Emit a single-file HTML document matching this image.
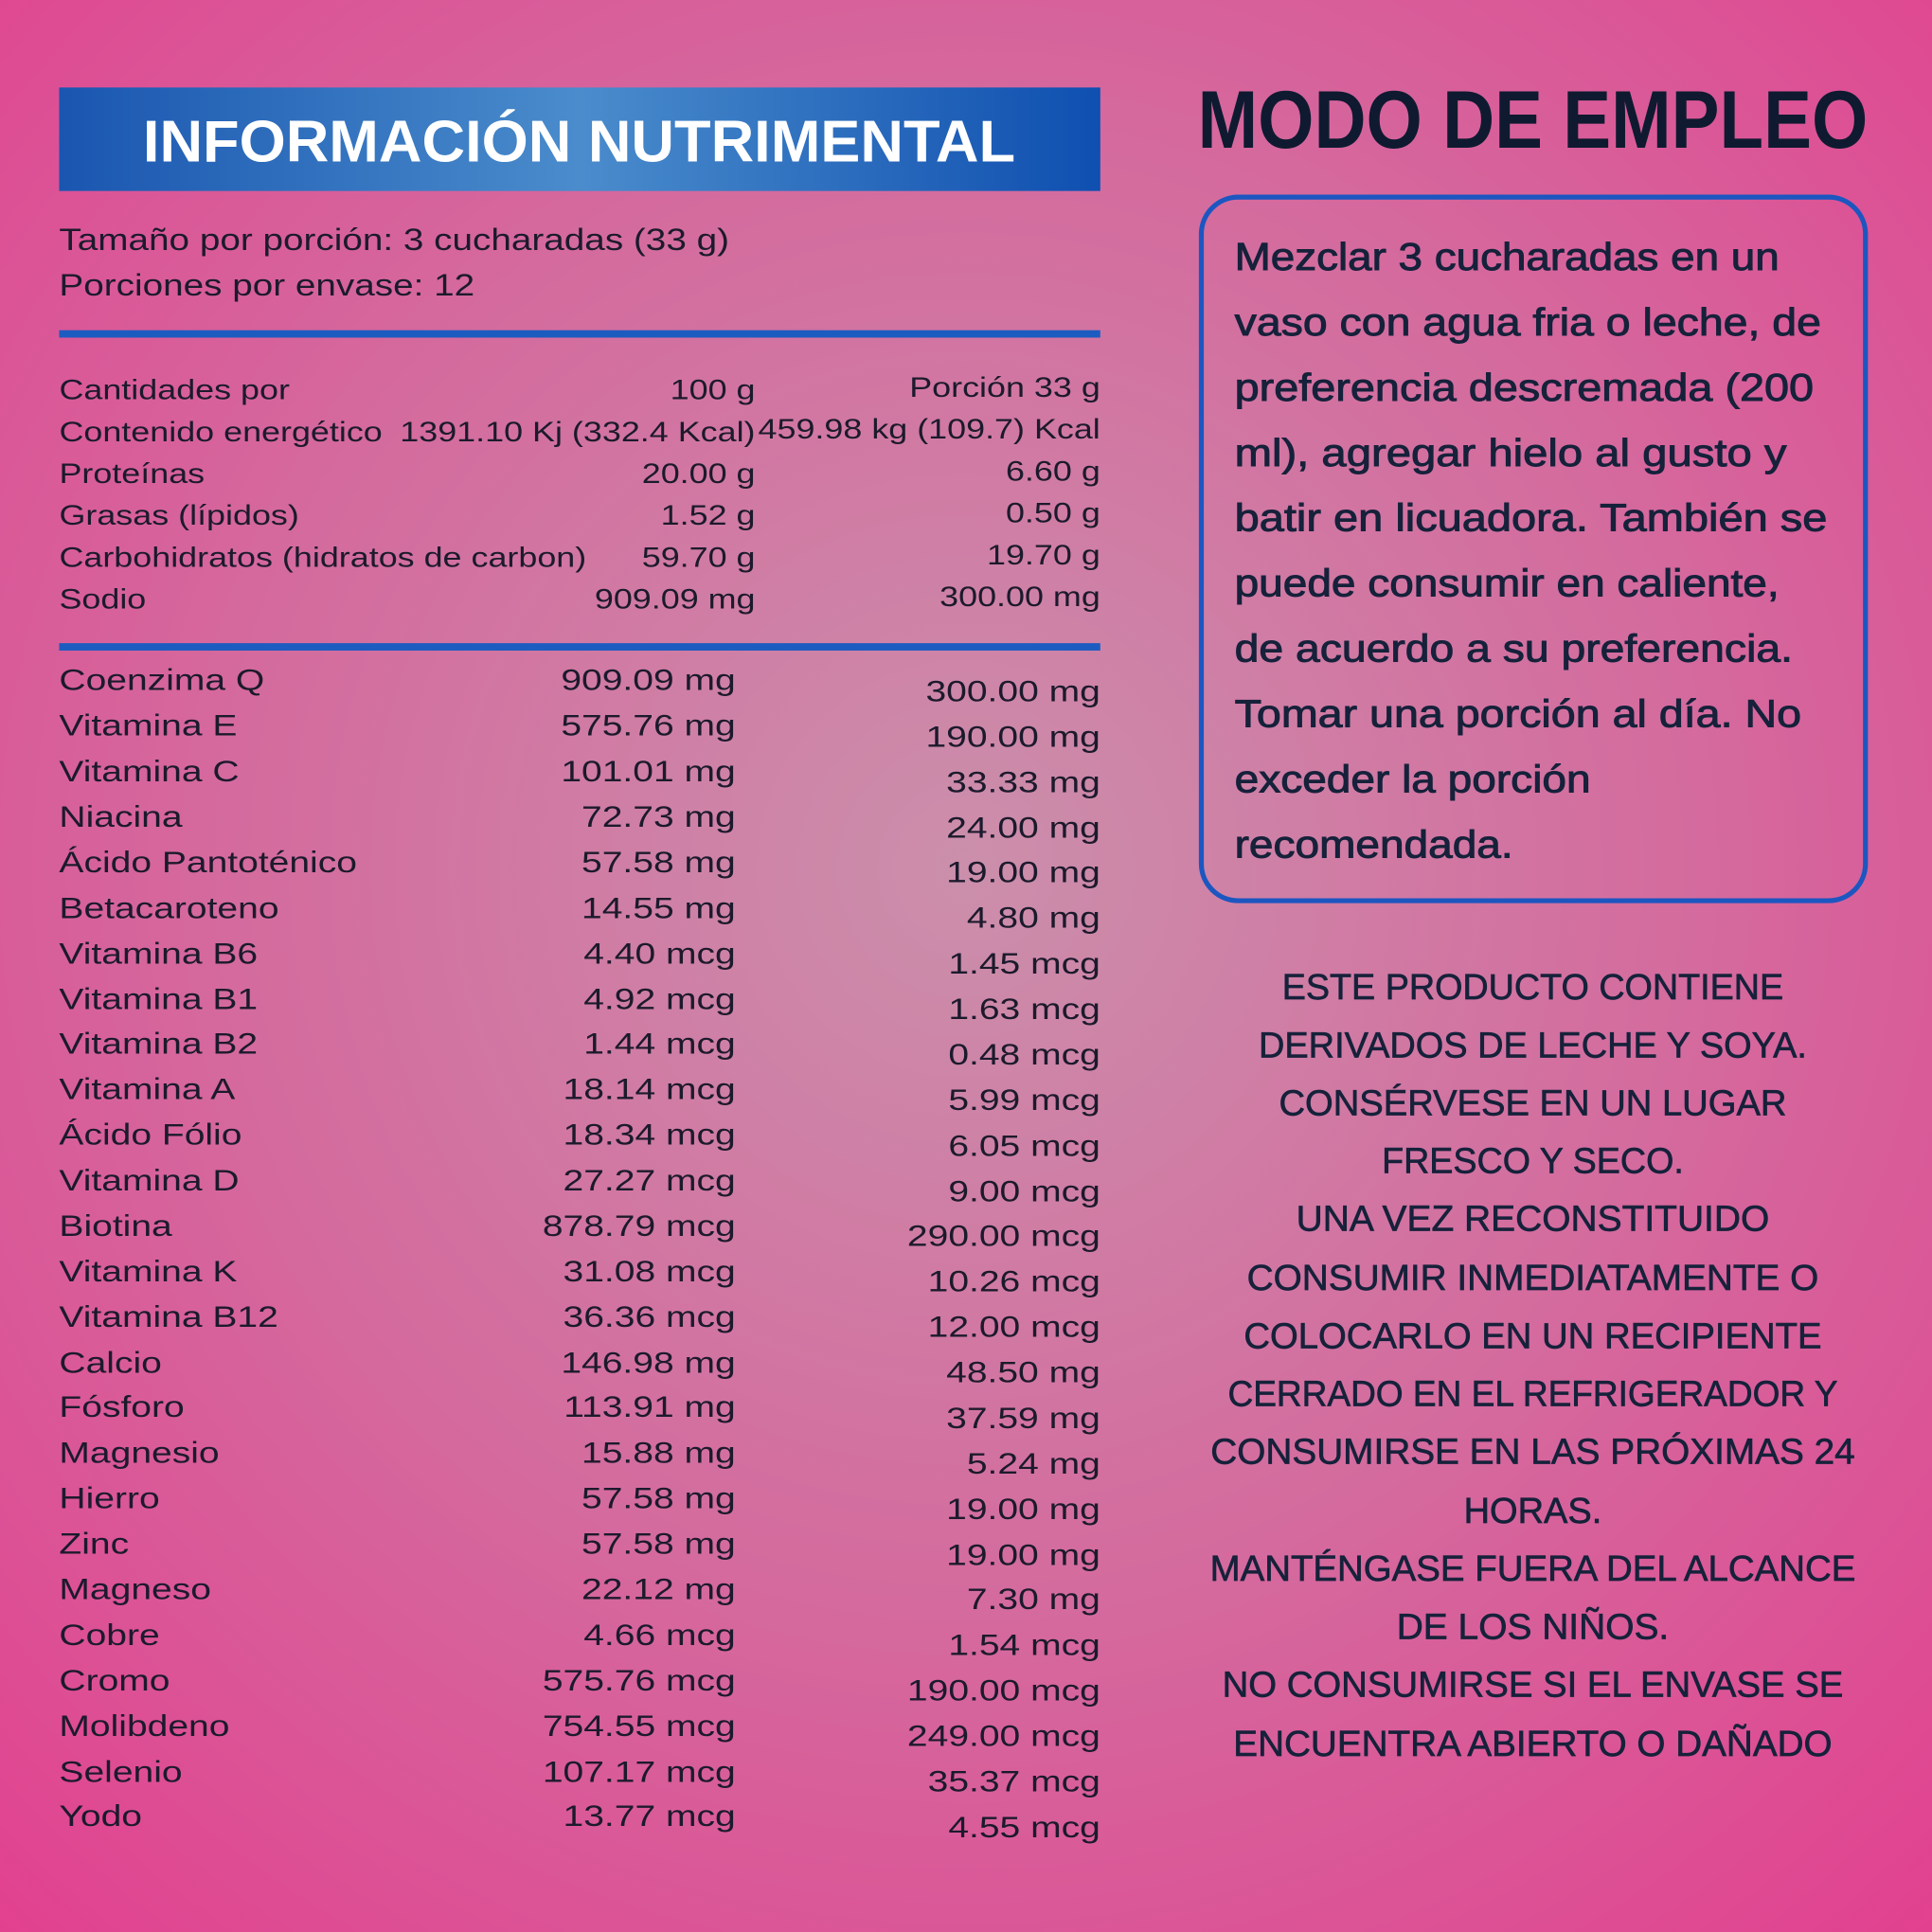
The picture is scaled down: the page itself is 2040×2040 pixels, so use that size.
<!DOCTYPE html>
<html><head><meta charset="utf-8"><style>
html,body{margin:0;padding:0;width:2040px;height:2040px;overflow:hidden}
svg{display:block}
text{font-family:"Liberation Sans",sans-serif}
</style></head><body>
<svg width="2040" height="2040" viewBox="0 0 1568 1568" xmlns="http://www.w3.org/2000/svg">
<defs>
<radialGradient id="bg" cx="0.5" cy="0.45" r="0.75">
<stop offset="0" stop-color="#cb8fab"/>
<stop offset="0.5" stop-color="#d46b9e"/>
<stop offset="1" stop-color="#e2408f"/>
</radialGradient>
<linearGradient id="bar" x1="0" x2="1" y1="0" y2="0">
<stop offset="0" stop-color="#1a56b0"/>
<stop offset="0.5" stop-color="#4a8ccc"/>
<stop offset="1" stop-color="#0f4fb0"/>
</linearGradient>
</defs>
<rect width="1568" height="1568" fill="url(#bg)"/>
<rect x="48" y="71" width="845" height="84" fill="url(#bar)"/>
<text x="470" y="131" font-size="48" font-weight="bold" fill="#fff" text-anchor="middle" textLength="708" lengthAdjust="spacingAndGlyphs">INFORMACIÓN NUTRIMENTAL</text>
<g font-size="25" fill="#1c1a2c" transform="translate(48 0) scale(1.19 1) translate(-48 0)">
<text x="48" y="203">Tamaño por porción: 3 cucharadas (33 g)</text>
<text x="48" y="240">Porciones por envase: 12</text>
</g>
<rect x="48" y="268" width="845" height="6" fill="#1c5cc0"/>
<rect x="48" y="522" width="845" height="6" fill="#1c5cc0"/>
<g font-size="23" fill="#1c1a2c" transform="translate(48 0) scale(1.2 1) translate(-48 0)">
<text x="48" y="324">Cantidades por</text>
<text x="48" y="358">Contenido energético</text>
<text x="48" y="392">Proteínas</text>
<text x="48" y="426">Grasas (lípidos)</text>
<text x="48" y="460">Carbohidratos (hidratos de carbon)</text>
<text x="48" y="494">Sodio</text>
</g>
<g font-size="23" fill="#1c1a2c" text-anchor="end" transform="translate(613 0) scale(1.2 1) translate(-613 0)">
<text x="613" y="324">100 g</text>
<text x="613" y="358">1391.10 Kj (332.4 Kcal)</text>
<text x="613" y="392">20.00 g</text>
<text x="613" y="426">1.52 g</text>
<text x="613" y="460">59.70 g</text>
<text x="613" y="494">909.09 mg</text>
</g>
<g font-size="23" fill="#1c1a2c" text-anchor="end" transform="translate(893 0) scale(1.2 1) translate(-893 0)">
<text x="893" y="322">Porción 33 g</text>
<text x="893" y="356">459.98 kg (109.7) Kcal</text>
<text x="893" y="390">6.60 g</text>
<text x="893" y="424">0.50 g</text>
<text x="893" y="458">19.70 g</text>
<text x="893" y="492">300.00 mg</text>
</g>
<g font-size="24" fill="#1c1a2c" transform="translate(48 0) scale(1.25 1) translate(-48 0)">
<text x="48" y="560">Coenzima Q</text>
<text x="48" y="597">Vitamina E</text>
<text x="48" y="634">Vitamina C</text>
<text x="48" y="671">Niacina</text>
<text x="48" y="708">Ácido Pantoténico</text>
<text x="48" y="745">Betacaroteno</text>
<text x="48" y="782">Vitamina B6</text>
<text x="48" y="819">Vitamina B1</text>
<text x="48" y="855">Vitamina B2</text>
<text x="48" y="892">Vitamina A</text>
<text x="48" y="929">Ácido Fólio</text>
<text x="48" y="966">Vitamina D</text>
<text x="48" y="1003">Biotina</text>
<text x="48" y="1040">Vitamina K</text>
<text x="48" y="1077">Vitamina B12</text>
<text x="48" y="1114">Calcio</text>
<text x="48" y="1150">Fósforo</text>
<text x="48" y="1187">Magnesio</text>
<text x="48" y="1224">Hierro</text>
<text x="48" y="1261">Zinc</text>
<text x="48" y="1298">Magneso</text>
<text x="48" y="1335">Cobre</text>
<text x="48" y="1372">Cromo</text>
<text x="48" y="1409">Molibdeno</text>
<text x="48" y="1446">Selenio</text>
<text x="48" y="1482">Yodo</text>
</g>
<g font-size="24" fill="#1c1a2c" text-anchor="end" transform="translate(597 0) scale(1.25 1) translate(-597 0)">
<text x="597" y="560">909.09 mg</text>
<text x="597" y="597">575.76 mg</text>
<text x="597" y="634">101.01 mg</text>
<text x="597" y="671">72.73 mg</text>
<text x="597" y="708">57.58 mg</text>
<text x="597" y="745">14.55 mg</text>
<text x="597" y="782">4.40 mcg</text>
<text x="597" y="819">4.92 mcg</text>
<text x="597" y="855">1.44 mcg</text>
<text x="597" y="892">18.14 mcg</text>
<text x="597" y="929">18.34 mcg</text>
<text x="597" y="966">27.27 mcg</text>
<text x="597" y="1003">878.79 mcg</text>
<text x="597" y="1040">31.08 mcg</text>
<text x="597" y="1077">36.36 mcg</text>
<text x="597" y="1114">146.98 mg</text>
<text x="597" y="1150">113.91 mg</text>
<text x="597" y="1187">15.88 mg</text>
<text x="597" y="1224">57.58 mg</text>
<text x="597" y="1261">57.58 mg</text>
<text x="597" y="1298">22.12 mg</text>
<text x="597" y="1335">4.66 mcg</text>
<text x="597" y="1372">575.76 mcg</text>
<text x="597" y="1409">754.55 mcg</text>
<text x="597" y="1446">107.17 mcg</text>
<text x="597" y="1482">13.77 mcg</text>
</g>
<g font-size="24" fill="#1c1a2c" text-anchor="end" transform="translate(893 0) scale(1.25 1) translate(-893 0)">
<text x="893" y="569">300.00 mg</text>
<text x="893" y="606">190.00 mg</text>
<text x="893" y="643">33.33 mg</text>
<text x="893" y="680">24.00 mg</text>
<text x="893" y="716">19.00 mg</text>
<text x="893" y="753">4.80 mg</text>
<text x="893" y="790">1.45 mcg</text>
<text x="893" y="827">1.63 mcg</text>
<text x="893" y="864">0.48 mcg</text>
<text x="893" y="901">5.99 mcg</text>
<text x="893" y="938">6.05 mcg</text>
<text x="893" y="975">9.00 mcg</text>
<text x="893" y="1011">290.00 mcg</text>
<text x="893" y="1048">10.26 mcg</text>
<text x="893" y="1085">12.00 mcg</text>
<text x="893" y="1122">48.50 mg</text>
<text x="893" y="1159">37.59 mg</text>
<text x="893" y="1196">5.24 mg</text>
<text x="893" y="1233">19.00 mg</text>
<text x="893" y="1270">19.00 mg</text>
<text x="893" y="1306">7.30 mg</text>
<text x="893" y="1343">1.54 mcg</text>
<text x="893" y="1380">190.00 mcg</text>
<text x="893" y="1417">249.00 mcg</text>
<text x="893" y="1454">35.37 mcg</text>
<text x="893" y="1491">4.55 mcg</text>
</g>
<text x="972" y="120" font-size="66" font-weight="bold" fill="#0f1a30" textLength="544" lengthAdjust="spacingAndGlyphs">MODO DE EMPLEO</text>
<rect x="975" y="160" width="539" height="571" rx="30" ry="30" fill="none" stroke="#1c56c0" stroke-width="4"/>
<g font-size="31" fill="#16213a" stroke="#16213a" stroke-width="0.7">
<text x="1002" y="219" textLength="442" lengthAdjust="spacingAndGlyphs">Mezclar 3 cucharadas en un</text>
<text x="1002" y="272" textLength="476" lengthAdjust="spacingAndGlyphs">vaso con agua fria o leche, de</text>
<text x="1002" y="325" textLength="470" lengthAdjust="spacingAndGlyphs">preferencia descremada (200</text>
<text x="1002" y="378" textLength="448" lengthAdjust="spacingAndGlyphs">ml), agregar hielo al gusto y</text>
<text x="1002" y="431" textLength="481" lengthAdjust="spacingAndGlyphs">batir en licuadora. También se</text>
<text x="1002" y="484" textLength="442" lengthAdjust="spacingAndGlyphs">puede consumir en caliente,</text>
<text x="1002" y="537" textLength="453" lengthAdjust="spacingAndGlyphs">de acuerdo a su preferencia.</text>
<text x="1002" y="590" textLength="460" lengthAdjust="spacingAndGlyphs">Tomar una porción al día. No</text>
<text x="1002" y="643" textLength="289" lengthAdjust="spacingAndGlyphs">exceder la porción</text>
<text x="1002" y="696" textLength="226" lengthAdjust="spacingAndGlyphs">recomendada.</text>
</g>
<g font-size="29" fill="#16213a" stroke="#16213a" stroke-width="0.5" text-anchor="middle">
<text x="1244" y="811" textLength="407" lengthAdjust="spacingAndGlyphs">ESTE PRODUCTO CONTIENE</text>
<text x="1244" y="858" textLength="445" lengthAdjust="spacingAndGlyphs">DERIVADOS DE LECHE Y SOYA.</text>
<text x="1244" y="905" textLength="412" lengthAdjust="spacingAndGlyphs">CONSÉRVESE EN UN LUGAR</text>
<text x="1244" y="952" textLength="245" lengthAdjust="spacingAndGlyphs">FRESCO Y SECO.</text>
<text x="1244" y="999" textLength="384" lengthAdjust="spacingAndGlyphs">UNA VEZ RECONSTITUIDO</text>
<text x="1244" y="1047" textLength="464" lengthAdjust="spacingAndGlyphs">CONSUMIR INMEDIATAMENTE O</text>
<text x="1244" y="1094" textLength="469" lengthAdjust="spacingAndGlyphs">COLOCARLO EN UN RECIPIENTE</text>
<text x="1244" y="1141" textLength="495" lengthAdjust="spacingAndGlyphs">CERRADO EN EL REFRIGERADOR Y</text>
<text x="1244" y="1188" textLength="523" lengthAdjust="spacingAndGlyphs">CONSUMIRSE EN LAS PRÓXIMAS 24</text>
<text x="1244" y="1236" textLength="112" lengthAdjust="spacingAndGlyphs">HORAS.</text>
<text x="1244" y="1283" textLength="524" lengthAdjust="spacingAndGlyphs">MANTÉNGASE FUERA DEL ALCANCE</text>
<text x="1244" y="1330" textLength="221" lengthAdjust="spacingAndGlyphs">DE LOS NIÑOS.</text>
<text x="1244" y="1377" textLength="504" lengthAdjust="spacingAndGlyphs">NO CONSUMIRSE SI EL ENVASE SE</text>
<text x="1244" y="1425" textLength="486" lengthAdjust="spacingAndGlyphs">ENCUENTRA ABIERTO O DAÑADO</text>
</g>
</svg>
</body></html>
